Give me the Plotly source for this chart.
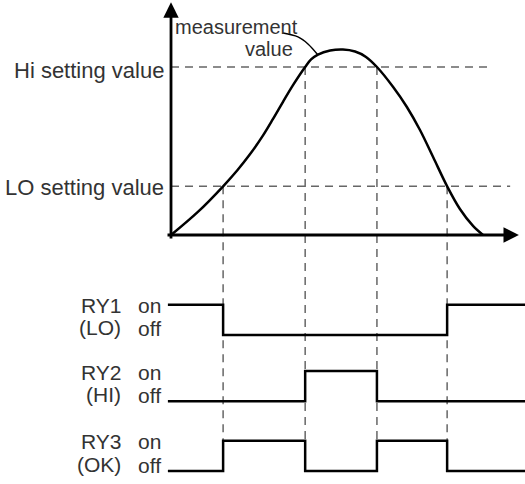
import plotly.graph_objects as go

# measurement curve (time in % of the cycle, value in % of the Hi setting)
curve_t = [0, 8.7, 16.7, 21.2, 25.3, 29.5, 32.7, 35.9, 39.1, 43.0, 44.9, 47.1, 51.0,
           55.1, 59.0, 62.5, 66.0, 71.2, 75.6, 79.8, 84.0, 88.5, 92.6, 96.8, 100]
curve_v = [0, 13.9, 29, 38.4, 48.0, 59.3, 69.1, 79.3, 89.2, 100, 104.5, 107.4, 109.8,
           110.4, 109.2, 106.0, 100, 88.1, 76.2, 62.5, 46.4, 29, 15.5, 5.4, 0]

hi_value = 100
lo_value = 29

# points where the curve crosses the set values
cross_t = [16.7, 43.0, 66.0, 88.5]
cross_v = [lo_value, hi_value, hi_value, lo_value]

# relay states (1 = on, 0 = off), held from each time to the next
step_t = [-1, 16.7, 43.0, 66.0, 88.5, 116]
ry1 = [1, 0, 0, 0, 1, 1]
ry2 = [0, 0, 1, 0, 0, 0]
ry3 = [0, 1, 0, 1, 0, 0]
relay_names = ["RY1", "RY2", "RY3"]
relay_tags = ["(LO)", "(HI)", "(OK)"]

# layout of the relay rows below the curve
row_base = [-59.5, -99, -140.5]
amp = 18

FONT = "Liberation Sans"
TXT = "#333333"
DASH = dict(color="#666666", width=1.5, dash="8px,6px")

fig = go.Figure()

# dashed set value lines
fig.add_trace(go.Scatter(x=[0, 101.6], y=[hi_value, hi_value], mode="lines", line=DASH))
fig.add_trace(go.Scatter(x=[0, 108.7], y=[lo_value, lo_value], mode="lines", line=DASH))

# dashed drop lines from crossings to the relay rows
for t, v in zip(cross_t, cross_v):
    fig.add_trace(go.Scatter(x=[t, t], y=[v, row_base[2] + amp], mode="lines", line=DASH))

# measurement curve
fig.add_trace(go.Scatter(x=curve_t, y=curve_v, mode="lines",
                         line=dict(color="black", width=2.5, shape="spline")))

# leader line for the curve label
fig.add_trace(go.Scatter(x=[35.9, 40.7, 43.9, 47.1], y=[120.2, 117.9, 113.7, 107.1],
                         mode="lines", line=dict(color="black", width=1.5, shape="spline")))

# relay timing lines
for k, states in enumerate([ry1, ry2, ry3]):
    fig.add_trace(go.Scatter(x=step_t, y=[row_base[k] + s * amp for s in states],
                             mode="lines", line=dict(color="black", width=2.5, shape="hv")))
    fig.add_annotation(x=-15.4, y=row_base[k] + amp, text=relay_names[k], xanchor="right",
                       showarrow=False, yshift=-1)
    fig.add_annotation(x=-15.4, y=row_base[k], text=relay_tags[k], xanchor="right",
                       showarrow=False, yshift=7)
    fig.add_annotation(x=-11.2, y=row_base[k] + amp, text="on", xanchor="left",
                       showarrow=False, yshift=-1)
    fig.add_annotation(x=-11.2, y=row_base[k], text="off", xanchor="left",
                       showarrow=False, yshift=6)

fig.update_annotations(font=dict(family=FONT, size=21, color=TXT))

# axes with arrow heads
fig.add_annotation(x=111.5, y=0, ax=-1.6, ay=0, xref="x", yref="y", axref="x", ayref="y",
                   text="", showarrow=True, arrowhead=2, arrowsize=1.1, arrowwidth=2.8,
                   arrowcolor="black", standoff=0)
fig.add_annotation(x=0, y=138.5, ax=0, ay=-3, xref="x", yref="y", axref="x", ayref="y",
                   text="", showarrow=True, arrowhead=2, arrowsize=1.1, arrowwidth=2.8,
                   arrowcolor="black", standoff=0)

# value labels
lab = dict(family=FONT, size=22, color=TXT)
fig.add_annotation(x=-1.6, y=hi_value, text="Hi setting value", xanchor="right",
                   showarrow=False, yshift=-3, font=lab)
fig.add_annotation(x=-1.6, y=lo_value, text="LO setting value", xanchor="right",
                   showarrow=False, yshift=-1, font=lab)
small = dict(family=FONT, size=20, color=TXT)
fig.add_annotation(x=0.6, y=124, text="measurement", xanchor="left", showarrow=False,
                   font=small)
fig.add_annotation(x=39.6, y=110.8, text="value", xanchor="right", showarrow=False,
                   font=small)

fig.update_layout(
    width=525, height=484,
    margin=dict(l=0, r=0, t=0, b=0),
    showlegend=False,
    plot_bgcolor="white", paper_bgcolor="white",
    xaxis=dict(range=[-54.81, 113.46], visible=False, fixedrange=True),
    yaxis=dict(range=[-148.21, 139.88], visible=False, fixedrange=True),
)

fig.write_html("out.html", config={"displayModeBar": False},
               post_script="document.body.style.margin='0';document.body.style.overflow='hidden';")
